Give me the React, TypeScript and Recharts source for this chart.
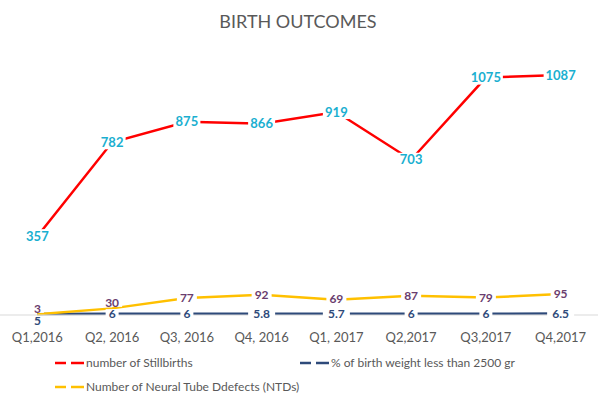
import React from "react";
import { LineChart, Line, XAxis, YAxis } from "recharts";

const quarters = ["Q1,2016", "Q2, 2016", "Q3, 2016", "Q4, 2016", "Q1, 2017", "Q2,2017", "Q3,2017", "Q4,2017"];
const stillbirths = [357, 782, 875, 866, 919, 703, 1075, 1087];
const lowBirthWeight = [5, 6, 6, 5.8, 5.7, 6, 6, 6.5];
const ntds = [3, 30, 77, 92, 69, 87, 79, 95];

const data = quarters.map((q, i) => ({
  q,
  still: stillbirths[i],
  lbw: lowBirthWeight[i],
  ntd: ntds[i],
}));

const FONT = "Lato, 'Open Sans', sans-serif";

const makeLabel = (color: string, offsets: Record<number, number>, boxH: number, fs: number) => (props: any) => {
  const { x, y, value, index } = props;
  const dy = offsets[index] || 0;
  const txt = String(value);
  const w = txt.length * 7 + 6;
  return (
    <g key={`l-${index}`}>
      <rect x={x - w / 2} y={y + dy - boxH / 2} width={w} height={boxH} fill="#fff" />
      <text
        x={x}
        y={y + dy}
        dy="0.36em"
        textAnchor="middle"
        fill={color}
        fontFamily={FONT}
        fontWeight={700}
        fontSize={fs}
      >
        {txt}
      </text>
    </g>
  );
};

const LegendKey = ({ color }: { color: string }) => (
  <svg width={30} height={10} style={{ display: "block" }}>
    <line x1={0} y1={5} x2={11} y2={5} stroke={color} strokeWidth={2.5} />
    <line x1={16} y1={5} x2={29} y2={5} stroke={color} strokeWidth={2.5} />
  </svg>
);

const legendItems = [
  { label: "number of Stillbirths", color: "#FF0000", left: 55, top: 356 },
  { label: "% of birth weight less than 2500 gr", color: "#2E4A7A", left: 300, top: 356 },
  { label: "Number of Neural Tube Ddefects (NTDs)", color: "#FFC000", left: 55, top: 380 },
];

export default function App() {
  return (
    <div style={{ position: "absolute", left: 0, top: 0, width: 604, height: 402, background: "#fff" }}>
      <div
        style={{
          position: "absolute",
          left: 0,
          width: 596,
          top: 10,
          textAlign: "center",
          fontFamily: FONT,
          fontSize: 18,
          color: "#595959",
        }}
      >
        BIRTH OUTCOMES
      </div>
      <LineChart width={604} height={402} data={data} margin={{ top: 50, right: 6, left: 0, bottom: 57 }}>
        <YAxis hide domain={[0, 1200]} />
        <XAxis
          dataKey="q"
          scale="band"
          height={30}
          tickLine={false}
          axisLine={{ stroke: "#D9D9D9", strokeWidth: 1 }}
          tick={{ fill: "#595959", fontSize: 13, fontFamily: FONT }}
          tickMargin={12}
          interval={0}
        />
        <Line
          dataKey="still"
          stroke="#FF0000"
          strokeWidth={2.5}
          dot={false}
          isAnimationActive={false}
          label={makeLabel("#1AAFD0", {}, 14, 13)}
        />
        <Line
          dataKey="lbw"
          stroke="#2E4A7A"
          strokeWidth={2.5}
          dot={false}
          isAnimationActive={false}
          label={makeLabel("#2E4A7A", { 0: 7 }, 9, 12)}
        />
        <Line
          dataKey="ntd"
          stroke="#FFC000"
          strokeWidth={2.5}
          dot={false}
          isAnimationActive={false}
          label={makeLabel("#6A3D6E", { 0: -6, 1: -6, 4: -1 }, 9, 12)}
        />
      </LineChart>
      {legendItems.map((it) => (
        <div
          key={it.label}
          style={{
            position: "absolute",
            left: it.left,
            top: it.top,
            display: "flex",
            alignItems: "center",
            fontFamily: FONT,
            fontSize: 12,
            color: "#595959",
            whiteSpace: "nowrap",
            lineHeight: "14px",
          }}
        >
          <LegendKey color={it.color} />
          <span style={{ marginLeft: 1 }}>{it.label}</span>
        </div>
      ))}
    </div>
  );
}
